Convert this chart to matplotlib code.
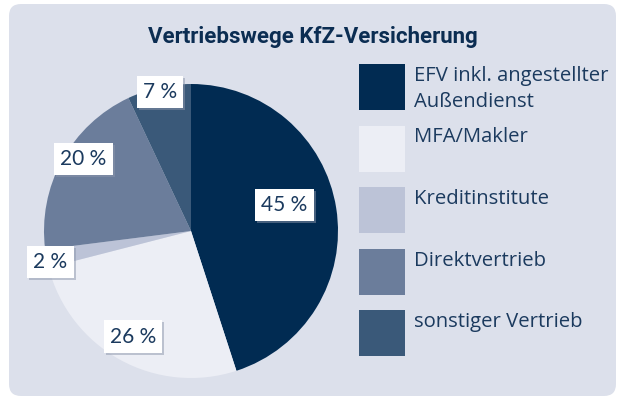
import matplotlib
matplotlib.use("Agg")
import numpy as np
import matplotlib.pyplot as plt
import matplotlib.patheffects as pe
from matplotlib.patches import FancyBboxPatch, Rectangle

# Daten
kategorien = ["EFV inkl. angestellter\nAußendienst", "MFA/Makler", "Kreditinstitute",
              "Direktvertrieb", "sonstiger Vertrieb"]
anteile = [45, 26, 2, 20, 7]
beschriftung = ["45 %", "26 %", "2 %", "20 %", "7 %"]
farben = ["#012b52", "#eceef5", "#bcc3d7", "#6b7d9b", "#3a5979"]

text_farbe = "#1b3a5e"
hg_farbe = "#dce0eb"
W, H = 625, 401

fig = plt.figure(figsize=(W / 100, H / 100), dpi=100)
fig.patch.set_facecolor("white")

# Hintergrund + Titel + Legende in Pixelkoordinaten
bg = fig.add_axes([0, 0, 1, 1])
bg.set_xlim(0, W)
bg.set_ylim(H, 0)
bg.axis("off")
bg.add_patch(FancyBboxPatch((9, 4), 607, 392, boxstyle="round,pad=0,rounding_size=12",
                            fc=hg_farbe, ec="none"))
bg.text(313, 43, "Vertriebswege KfZ-Versicherung", ha="center", va="baseline",
        fontsize=16, fontweight="bold", color="#0b2d52", family="Roboto")

for i, (k, f) in enumerate(zip(kategorien, farben)):
    y0 = 64 + i * 61.5
    bg.add_patch(Rectangle((359, y0), 46, 46, fc=f, ec="none"))
    for j, zeile in enumerate(k.split("\n")):
        bg.text(414, y0 + 17 + j * 25.7, zeile, ha="left", va="baseline", fontsize=14.6,
                color=text_farbe, family="Open Sans")

# Kreisdiagramm
cx, cy, r = 191, 231, 147
ax = fig.add_axes([(cx - r) / W, (H - cy - r) / H, 2 * r / W, 2 * r / H])
ax.set_facecolor("none")
wedges, _ = ax.pie(anteile, colors=farben, startangle=90, counterclock=False,
                   wedgeprops=dict(linewidth=0))
ax.set_xlim(-1, 1)
ax.set_ylim(-1, 1)
ax.set_aspect("equal")

# Lage der Beschriftung: Anteil im Segment (Winkel) und Abstand vom Mittelpunkt
lage = [0.54, 0.5, 0.72, 0.43, 0.5]
abstand = [0.66, 0.82, 0.98, 0.88, 0.97]
for w, txt, fr, d in zip(wedges, beschriftung, lage, abstand):
    winkel = np.deg2rad(w.theta1 + fr * (w.theta2 - w.theta1))
    t = ax.text(d * np.cos(winkel), d * np.sin(winkel), txt, ha="center", va="center",
                fontsize=15, color=text_farbe, family="Lato",
                bbox=dict(boxstyle="square,pad=0.3", fc="white", ec="none"))
    t.get_bbox_patch().set_path_effects([
        pe.SimplePatchShadow(offset=(1.5, -1.5), shadow_rgbFace="#8c96ab", alpha=0.5),
        pe.Normal()])

fig.savefig("out.png", dpi=100)
